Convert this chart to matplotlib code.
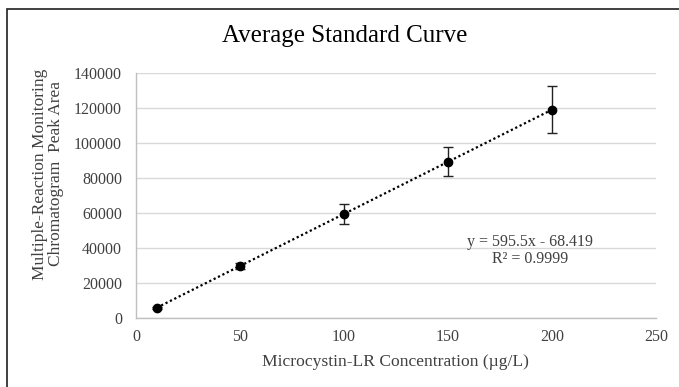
import matplotlib.pyplot as plt
from matplotlib.patches import Rectangle

# data
conc = [10, 50, 100, 150, 200]
area = [5900, 29700, 59500, 89300, 119000]
area_err = [600, 1500, 5700, 8400, 13300]
slope = 595.5
intercept = -68.419
x_ticks = [0, 50, 100, 150, 200, 250]
y_ticks = [0, 20000, 40000, 60000, 80000, 100000, 120000, 140000]

plt.rcParams['font.family'] = ['Liberation Serif', 'DejaVu Serif']
TEXT = '#404040'
GRID = '#d9d9d9'

fig = plt.figure(figsize=(6.79, 3.87), dpi=100)
ax = fig.add_axes([136 / 679, 1 - 318 / 387, 520 / 679, 245 / 387])

# chart border (cropped at right/bottom)
fig.patches.append(Rectangle((7 / 679, -0.05), 1.2, 1 - 9 / 387 + 0.05,
                             transform=fig.transFigure, fill=False,
                             edgecolor='#202020', linewidth=1.2))

# trendline
fit_x = [conc[0], conc[-1]]
fit_y = [slope * v + intercept for v in fit_x]
ax.plot(fit_x, fit_y, linestyle=(0, (1, 1.2)), color='black', linewidth=1.6, zorder=2)

ax.errorbar(conc, area, yerr=area_err, fmt='o', color='black', markersize=6,
            ecolor='#222222', elinewidth=1, capsize=3.5, capthick=1, zorder=3)

ax.set_xlim(0, 250)
ax.set_ylim(0, 140000)
ax.set_xticks(x_ticks)
ax.set_yticks(y_ticks)
ax.tick_params(length=0, labelsize=11.5, colors=TEXT)
ax.tick_params(axis='y', pad=10)
ax.tick_params(axis='x', pad=8)
ax.grid(axis='y', color=GRID, linewidth=1)
ax.set_axisbelow(True)
for side in ['top', 'right']:
    ax.spines[side].set_visible(False)
for side in ['left', 'bottom']:
    ax.spines[side].set_color('#bfbfbf')
    ax.spines[side].set_linewidth(1)

fig.text(345 / 679, 1 - 36 / 387, 'Average Standard Curve', ha='center', va='center',
         fontsize=18, color='black')
fig.text(395 / 679, 1 - 362 / 387, 'Microcystin-LR Concentration (\u00b5g/L)', ha='center',
         va='center', fontsize=12.6, color=TEXT)
fig.text(48 / 679, 1 - 174 / 387, 'Multiple-Reaction Monitoring\nChromatogram  Peak Area',
         ha='center', va='center', rotation=90, fontsize=12.5, color=TEXT, linespacing=1.05)

ax.text(189.5, 38500, 'y = 595.5x - 68.419\nR\u00b2 = 0.9999', ha='center', va='center',
        fontsize=11.5, color=TEXT, linespacing=1.05)

fig.savefig('out.png', dpi=100)
